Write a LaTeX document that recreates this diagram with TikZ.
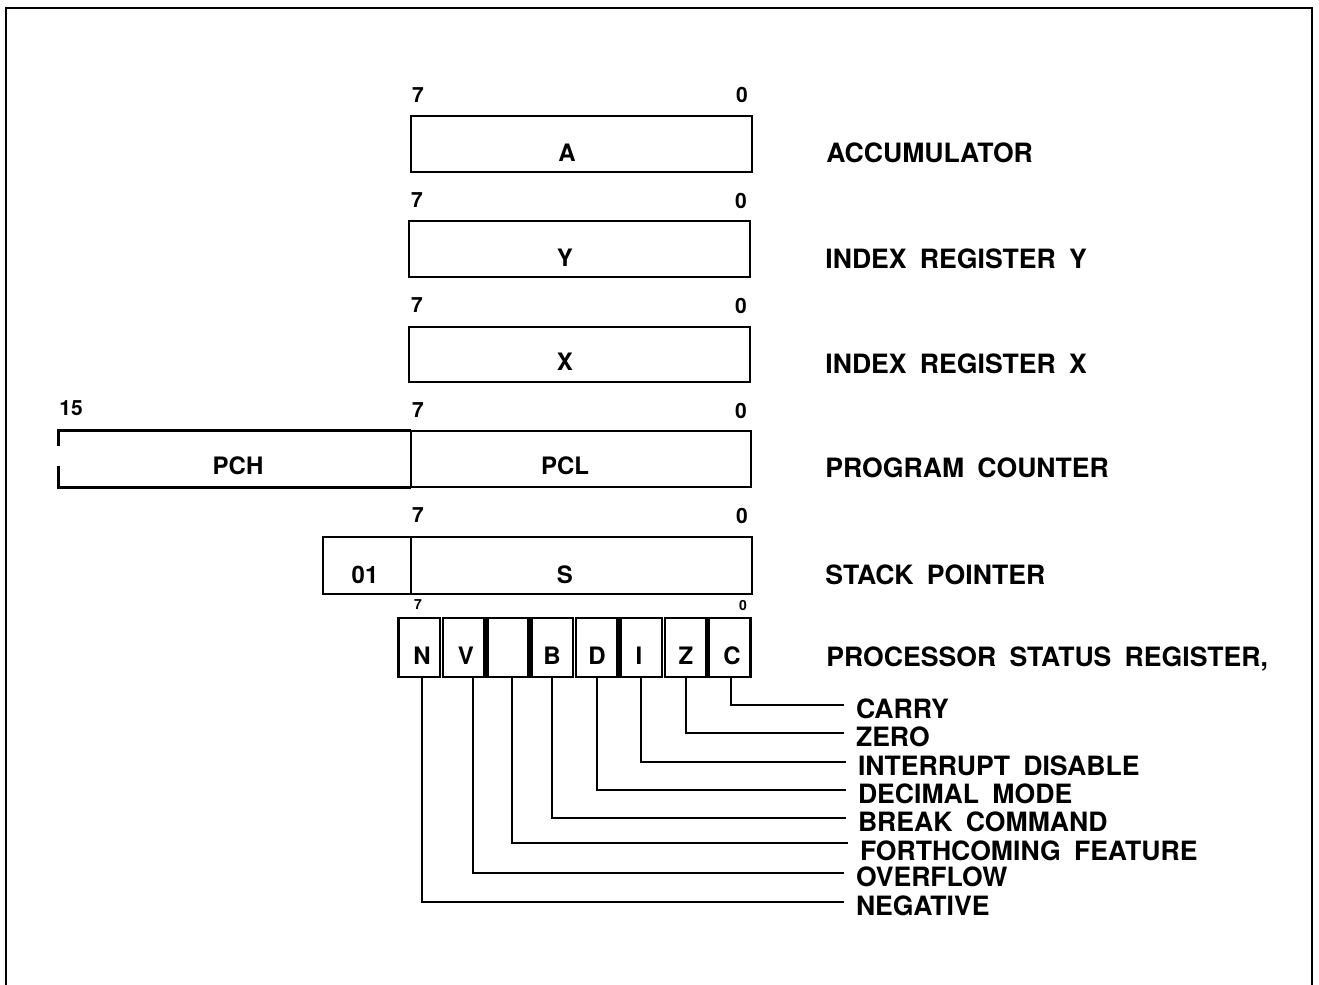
\documentclass[tikz,border=0pt]{standalone}
\usepackage{fontspec}
\setmainfont{TeX Gyre Heros}
\begin{document}
\begin{tikzpicture}[x=0.5pt,y=-0.5pt,
  reg/.style={draw,line width=1.3pt,minimum height=28pt,inner sep=0pt},
  flag/.style={draw,line width=1.3pt,minimum width=20.7pt,minimum height=29.5pt,inner sep=0pt},
  bit/.style={font=\fontsize{10.5}{12}\selectfont\bfseries,inner sep=0pt},
  sbit/.style={font=\fontsize{7}{8}\selectfont\bfseries,inner sep=0pt},
  letter/.style={font=\fontsize{12}{13}\selectfont\bfseries,inner sep=0pt},
  regname/.style={font=\fontsize{13.3}{15}\selectfont\bfseries,execute at begin node={\spaceskip=0.5em\relax},inner sep=0pt,anchor=west,text height=9.5pt,text depth=0pt},
  flagname/.style={regname,text height=13.5pt,outer xsep=6pt},
  lead/.style={line width=1pt},
  frame/.style={line width=1pt}]
\useasboundingbox (0,0) rectangle (1319,985);
% frame
\coordinate (f1) at (6,985);
\coordinate (f2) at (6,8);
\coordinate (f3) at (1312,8);
\coordinate (f4) at (1312,985);
\draw[frame] (f1) -- (f2) -- (f3) -- (f4);

% Accumulator
\node[reg,minimum width=170.5pt] (Abox) at (581.5,144) {};
\node[letter] (At) at (567,153) {A};
\node[bit] (A7) at (418,95) {7};
\node[bit] (A0) at (742,95) {0};
\node[regname] (Aname) at (826,153) {ACCUMULATOR};

% Y
\node[reg,minimum width=170.5pt] (Ybox) at (579.5,249) {};
\node[letter] (Yt) at (565,258) {Y};
\node[bit] (Y7) at (417,200) {7};
\node[bit] (Y0) at (741,201) {0};
\node[regname] (Yname) at (825,259) {INDEX REGISTER Y};

% X
\node[reg,minimum width=170.5pt,minimum height=27.5pt] (Xbox) at (579.5,354.5) {};
\node[letter] (Xt) at (565,362) {X};
\node[bit] (X7) at (417,305) {7};
\node[bit] (X0) at (741,306) {0};
\node[regname] (Xname) at (825,364) {INDEX REGISTER X};

% Program counter
\node[reg,minimum width=170pt] (PCL) at (581,459) {};
\node[inner sep=0pt,minimum width=176pt,minimum height=28pt] (PCH) at (235,459) {};
\draw[line width=1.3pt] ([yshift=6.5pt]PCH.west) -- (PCH.north west) -- (PCH.north east);
\draw[line width=1.3pt] ([yshift=10.5pt]PCH.south west) -- (PCH.south west) -- (PCH.south east);
\node[letter] (PCHt) at (238,466) {PCH};
\node[letter] (PCLt) at (565,466) {PCL};
\node[bit] (P15) at (71,408) {15};
\node[bit] (P7) at (418,410) {7};
\node[bit] (P0) at (741,411) {0};
\node[regname] (Pname) at (825,468) {PROGRAM COUNTER};

% Stack pointer
\node[reg,minimum width=170.5pt,minimum height=28.5pt] (Sbox) at (581.5,565.5) {};
\node[reg,minimum width=44pt,minimum height=28.5pt] (Hbox) at (367,565.5) {};
\node[letter] (Ht) at (365,575) {01};
\node[letter] (St) at (565,575) {S};
\node[bit] (S7) at (418,515) {7};
\node[bit] (S0) at (742,516) {0};
\node[regname] (Sname) at (825,575) {STACK POINTER};

% Status register
\node[flag] (N) at (419.2,647.5) {};
\node[flag] (V) at (463.6,647.5) {};
\node[flag] (U) at (508.0,647.5) {};
\node[flag] (B) at (552.3,647.5) {};
\node[flag] (D) at (596.7,647.5) {};
\node[flag] (I) at (641.1,647.5) {};
\node[flag] (Z) at (685.5,647.5) {};
\node[flag] (C) at (729.8,647.5) {};
\node[letter] (Nt) at (422,656) {N};
\node[letter] (Vt) at (466,656) {V};
\node[letter] (Bt) at (552,656) {B};
\node[letter] (Dt) at (597,656) {D};
\node[letter] (It) at (639,656) {I};
\node[letter] (Zt) at (686,656) {Z};
\node[letter] (Ct) at (732,656) {C};
\node[sbit] (F7) at (418,605) {7};
\node[sbit] (F0) at (743,605) {0};
\node[regname] (Fname) at (826,657) {PROCESSOR STATUS REGISTER,};

% flag names
\node[flagname] (car) at (844,705) {CARRY};
\node[flagname] (zer) at (844,733) {ZERO};
\node[flagname] (int) at (846,762) {INTERRUPT DISABLE};
\node[flagname] (dec) at (846,790) {DECIMAL MODE};
\node[flagname] (brk) at (846,818) {BREAK COMMAND};
\node[flagname,text height=17.5pt] (fth) at (848,843) {FORTHCOMING FEATURE};
\node[flagname] (ovf) at (844,873) {OVERFLOW};
\node[flagname] (neg) at (844,902) {NEGATIVE};

% leaders
\draw[lead] ([xshift=0.6pt]C.south) |- (car.west);
\draw[lead] (Z.south) |- (zer.west);
\draw[lead] (I.south) |- (int.west);
\draw[lead] (D.south) |- (dec.west);
\draw[lead] (B.south) |- (brk.west);
\draw[lead] ([xshift=2pt]U.south) |- (fth.west);
\draw[lead] ([xshift=4.7pt]V.south) |- (ovf.west);
\draw[lead] ([xshift=1.4pt]N.south) |- (neg.west);
\end{tikzpicture}
\end{document}
